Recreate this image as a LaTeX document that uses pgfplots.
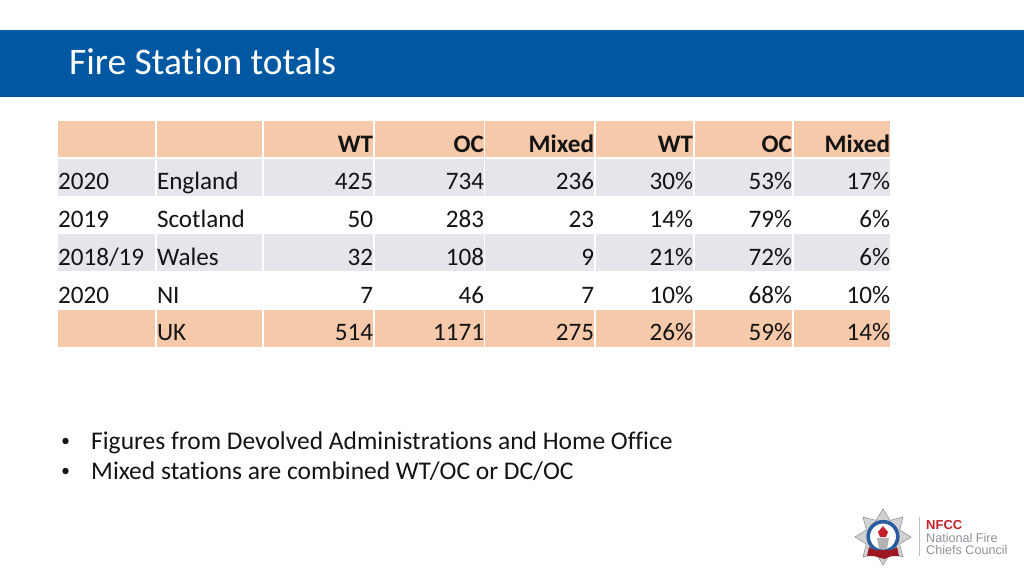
\documentclass[border=0pt]{standalone}
\usepackage{fontspec}
\usepackage{pgfplots}
\usepackage{pgfplotstable}
\pgfplotsset{compat=1.18}
\setmainfont[Ligatures=NoCommon]{Carlito}
\newfontfamily\logofont{Liberation Sans}

\definecolor{band}{HTML}{0058A3}
\definecolor{peach}{HTML}{F7C9AB}
\definecolor{rowgray}{HTML}{E4E6EC}
\definecolor{ink}{HTML}{141414}
\definecolor{logored}{HTML}{C4202B}
\definecolor{logoblue}{HTML}{2A5CA0}
\definecolor{logogray}{HTML}{8E9398}

% positions are reference pixels: x, baseline y, text
\pgfplotstableread[col sep=comma]{
x,y,label
373,152,WT
484,152,OC
594,152,Mixed
693,152,WT
792,152,OC
890,152,Mixed
}\headcells

\pgfplotstableread[col sep=comma]{
x,y,label
58,189,2020
157,189,England
58,227,2019
157,227,Scotland
58,265,2018/19
157,265,Wales
58,303,2020
157,303,NI
157,340,UK
}\leftcells

\pgfplotstableread[col sep=comma]{
x,y,label
373,189,425
484,189,734
594,189,236
693,189,30\%
792,189,53\%
890,189,17\%
373,227,50
484,227,283
594,227,23
693,227,14\%
792,227,79\%
890,227,6\%
373,265,32
484,265,108
594,265,9
693,265,21\%
792,265,72\%
890,265,6\%
373,303,7
484,303,46
594,303,7
693,303,10\%
792,303,68\%
890,303,10\%
373,340,514
484,340,1171
594,340,275
693,340,26\%
792,340,59\%
890,340,14\%
}\rightcells

\begin{document}
\begin{tikzpicture}
\begin{axis}[
    scale only axis,
    width=1024bp,
    height=576bp,
    xmin=0, xmax=1024,
    ymin=0, ymax=576,
    y dir=reverse,
    hide axis,
    clip=false,
    unbounded coords=jump,
    every node near coord/.style={inner sep=0pt, outer sep=0pt, text=ink,
      font=\fontsize{25.15bp}{30bp}\selectfont},
]
% white page, keeps the full 1024x576 box
\fill[white] (axis cs:0,0) rectangle (axis cs:1024,576);

% title band and table rows
\addplot[fill=band, draw=none] coordinates {(0,30)(1024,30)(1024,97)(0,97)} -- cycle;
\addplot[fill=peach, draw=none] coordinates {(58,121)(890,121)(890,158)(58,158)} -- cycle;
\addplot[fill=rowgray, draw=none] coordinates {(58,158)(890,158)(890,196)(58,196)} -- cycle;
\addplot[fill=rowgray, draw=none] coordinates {(58,234)(890,234)(890,271)(58,271)} -- cycle;
\addplot[fill=peach, draw=none] coordinates {(58,310)(890,310)(890,347)(58,347)} -- cycle;
% white cell borders
\addplot[white, line width=1.5bp] coordinates {
  (156,121)(156,347)(156,nan)
  (263,121)(263,347)(263,nan)
  (374,121)(374,347)(374,nan)
  (484.5,121)(484.5,347)(484.5,nan)
  (595,121)(595,347)(595,nan)
  (694,121)(694,347)(694,nan)
  (793,121)(793,347)(793,nan)
  (58,158)(890,158)
};

% table text
\addplot[draw=none, nodes near coords, point meta=explicit symbolic,
  every node near coord/.append style={anchor=base east, font=\fontsize{25.15bp}{30bp}\selectfont\bfseries}]
  table[x=x, y=y, meta=label] {\headcells};
\addplot[draw=none, nodes near coords, point meta=explicit symbolic,
  every node near coord/.append style={anchor=base west}]
  table[x=x, y=y, meta=label] {\leftcells};
\addplot[draw=none, nodes near coords, point meta=explicit symbolic,
  every node near coord/.append style={anchor=base east}]
  table[x=x, y=y, meta=label] {\rightcells};

% title and notes
\node[anchor=base west, inner sep=0pt, text=white, font=\fontsize{37.5bp}{44bp}\selectfont]
  at (axis cs:69,75) {Fire Station totals};
\node[anchor=base west, inner sep=0pt, text=ink, font=\fontsize{25.5bp}{30bp}\selectfont]
  at (axis cs:91,449) {Figures from Devolved Administrations and Home Office};
\node[anchor=base west, inner sep=0pt, text=ink, font=\fontsize{25.5bp}{30bp}\selectfont]
  at (axis cs:91,479) {Mixed stations are combined WT/OC or DC/OC};
\fill[ink] (axis cs:65.5,441) circle[radius=3.2];
\fill[ink] (axis cs:65.5,471) circle[radius=3.2];

% logo
\addplot[fill=gray!35, draw=logogray, line width=0.6bp] coordinates {
  (883,509)(890,520.4)(903,517)(899.6,530)(911,537)(899.6,544)(903,557)(890,553.6)
  (883,565)(876,553.6)(863,557)(866.4,544)(855,537)(866.4,530)(863,517)(876,520.4)
} -- cycle;
\fill[white] (axis cs:883,536.5) circle[radius=15];
\draw[logoblue, line width=3.6bp] (axis cs:883,536.5) circle[radius=14.8];
\fill[gray!60] (axis cs:877,538)--(axis cs:889,538)--(axis cs:887,549)--(axis cs:879,549)--cycle;
\fill[logored] (axis cs:883,526)--(axis cs:888,532)--(axis cs:886,537)--(axis cs:880,537)--(axis cs:878,532)--cycle;
\fill[logored!80!black] (axis cs:869,547)--(axis cs:874,550)--(axis cs:892,550)--(axis cs:897,547)
  --(axis cs:899,556)--(axis cs:892,556)--(axis cs:884,559)--(axis cs:874,556)--(axis cs:867,556)--cycle;
\draw[gray!50, line width=0.8bp] (axis cs:919,517)--(axis cs:919,556);
\node[anchor=base west, inner sep=0pt, text=logored, font=\logofont\bfseries\fontsize{13bp}{15bp}\selectfont]
  at (axis cs:926,529) {NFCC};
\node[anchor=base west, inner sep=0pt, text=logogray, font=\logofont\fontsize{12.6bp}{15bp}\selectfont]
  at (axis cs:926,542) {National Fire};
\node[anchor=base west, inner sep=0pt, text=logogray, font=\logofont\fontsize{12.6bp}{15bp}\selectfont]
  at (axis cs:926,554) {Chiefs Council};
\end{axis}
\end{tikzpicture}
\end{document}
